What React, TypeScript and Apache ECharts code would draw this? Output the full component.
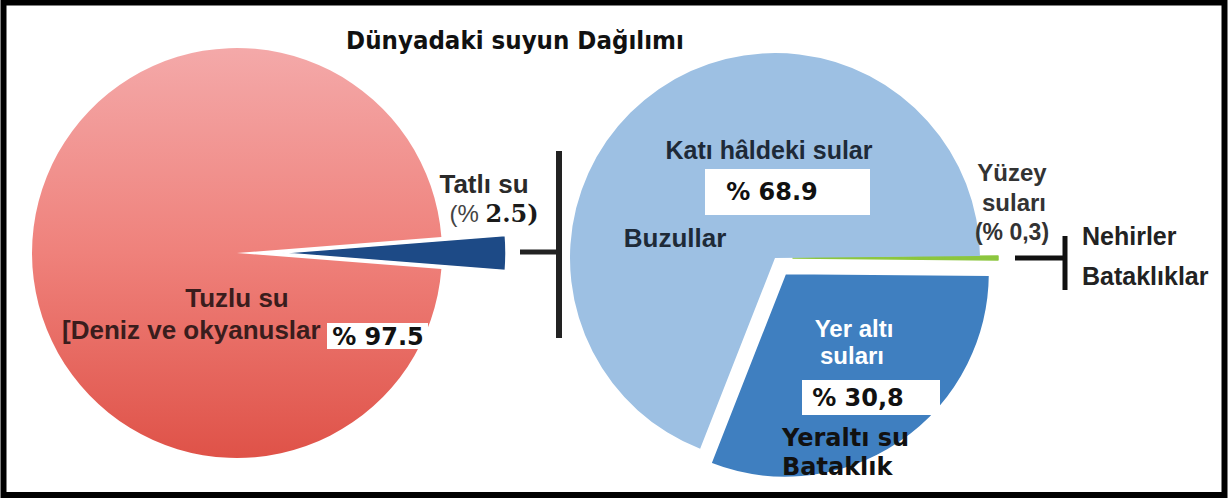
import React, { useEffect, useRef } from 'react';
import * as echarts from 'echarts';

const chartTitle = 'Dünyadaki suyun Dağılımı';
const leftNames = ['Tatlı su', 'Tuzlu su'];
const leftValues = [2.5, 97.5];
const rightNames = ['Yüzey suları', 'Yer altı suları', 'Katı hâldeki sular'];
const rightValues = [0.3, 30.8, 68.9];
const valueLabels = ['(% 2.5)', '% 97.5', '% 68.9', '(% 0,3)', '% 30,8'];
const subLabels = ['[Deniz ve okyanuslar', 'Buzullar', 'Nehirler', 'Bataklıklar', 'Yeraltı su', 'Bataklık'];

const SANS = '"Liberation Sans", Arial, sans-serif';
const VERD = '"DejaVu Sans", Verdana, sans-serif';

function txt(text: string, x: number, y: number, opts: any = {}) {
  const align = opts.align || 'center';
  return {
    type: 'text',
    z: 100,
    x,
    y,
    scaleX: opts.scaleX || 1,
    style: {
      text,
      fill: opts.fill || '#222',
      font: opts.font || `bold 26px ${SANS}`,
      align,
      textAlign: align,
      verticalAlign: 'middle',
      textVerticalAlign: 'middle',
      rich: opts.rich,
    },
  };
}

export default function App() {
  const ref = useRef<HTMLDivElement>(null);
  useEffect(() => {
    if (!ref.current) return;
    const chart = echarts.init(ref.current, undefined, { renderer: 'svg' });
    const transparent = 'rgba(0,0,0,0)';
    const redGrad = new echarts.graphic.LinearGradient(0, 0, 0, 1, [
      { offset: 0, color: '#f4a9a9' },
      { offset: 0.5, color: '#ef817b' },
      { offset: 1, color: '#df5248' },
    ]);
    const [tatliName, tuzluName] = leftNames;
    const [tatliVal, tuzluVal] = leftValues;
    const option: any = {
      animation: false,
      backgroundColor: '#fff',
      series: [
        {
          type: 'pie',
          center: [237, 253],
          radius: 205,
          startAngle: 4.5,
          clockwise: true,
          silent: true,
          label: { show: false },
          labelLine: { show: false },
          emphasis: { disabled: true },
          data: [
            { name: tatliName, value: tatliVal, itemStyle: { color: transparent } },
            { name: tuzluName, value: tuzluVal, itemStyle: { color: redGrad } },
          ],
        },
        {
          type: 'pie',
          center: [237, 253],
          radius: 224,
          startAngle: 4.5,
          clockwise: true,
          selectedMode: 'multiple',
          selectedOffset: 45,
          label: { show: false },
          labelLine: { show: false },
          emphasis: { disabled: true },
          data: [
            { name: tatliName, value: tatliVal, selected: true, itemStyle: { color: '#1d4a86', borderColor: '#fff', borderWidth: 1.5 } },
            { name: tuzluName, value: tuzluVal, itemStyle: { color: transparent } },
          ],
        },
        {
          type: 'pie',
          center: [775, 258],
          radius: 205,
          startAngle: 0.54,
          clockwise: true,
          selectedMode: 'multiple',
          selectedOffset: 18,
          label: { show: false },
          labelLine: { show: false },
          emphasis: { disabled: true },
          data: [
            { name: rightNames[0], value: rightValues[0], selected: true, itemStyle: { color: '#8cc63e', borderColor: '#8cc63e', borderWidth: 1.5 } },
            { name: rightNames[1], value: rightValues[1], selected: true, itemStyle: { color: '#3f7fc0', borderColor: '#fff', borderWidth: 2.5 } },
            { name: rightNames[2], value: rightValues[2], itemStyle: { color: '#9dc0e3' } },
          ],
        },
      ],
      graphic: [
        { type: 'rect', z: 100, shape: { x: 3.5, y: 2.5, width: 1221, height: 492.5 }, style: { fill: 'none', stroke: '#000', lineWidth: 6 } },
        txt(chartTitle, 515, 41, { font: `bold 25px ${VERD}`, fill: '#111', scaleX: 0.92 }),
        { type: 'line', z: 100, shape: { x1: 559, y1: 151, x2: 559, y2: 338 }, style: { stroke: '#222', lineWidth: 6 } },
        { type: 'line', z: 100, shape: { x1: 520, y1: 252, x2: 559, y2: 252 }, style: { stroke: '#222', lineWidth: 5 } },
        { type: 'line', z: 100, shape: { x1: 1015, y1: 258, x2: 1065, y2: 258 }, style: { stroke: '#111', lineWidth: 5 } },
        { type: 'line', z: 100, shape: { x1: 1065, y1: 236, x2: 1065, y2: 290 }, style: { stroke: '#111', lineWidth: 5 } },
        txt(tatliName, 484, 184, { fill: '#2a2a2a' }),
        txt(`{a|(% }{b|${tatliVal})}`, 494, 213, {
          rich: {
            a: { font: `24px ${SANS}`, fill: '#444' },
            b: { font: `bold 24px "DejaVu Serif", serif`, fill: '#1a1a1a' },
          },
        }),
        txt(tuzluName, 237, 298, { fill: '#3a1d1d' }),
        txt(subLabels[0], 62, 330, { align: 'left', fill: '#3a1d1d' }),
        { type: 'rect', z: 100, shape: { x: 327, y: 323, width: 101, height: 26 }, style: { fill: '#fff' } },
        txt(valueLabels[1], 378, 337, { font: `bold 24px ${VERD}`, fill: '#111' }),
        txt(rightNames[2], 769, 150, { fill: '#1e2a38', font: `bold 25px ${SANS}` }),
        { type: 'rect', z: 100, shape: { x: 705, y: 169, width: 165, height: 46 }, style: { fill: '#fff' } },
        txt(valueLabels[2], 772, 192, { font: `bold 24px ${VERD}`, fill: '#111' }),
        txt(subLabels[1], 675, 238, { fill: '#1e2a38' }),
        txt('Yüzey', 1012, 172, { fill: '#333', font: `bold 24px ${SANS}` }),
        txt('suları', 1014, 202, { fill: '#333', font: `bold 24px ${SANS}` }),
        txt(valueLabels[3], 1012, 232, { fill: '#333', font: `bold 23px ${SANS}` }),
        txt(subLabels[2], 1082, 236, { align: 'left', fill: '#222', font: `bold 25px ${SANS}` }),
        txt(subLabels[3], 1082, 276, { align: 'left', fill: '#222', font: `bold 25px ${SANS}` }),
        txt('Yer altı', 854, 328, { fill: '#fff', font: `bold 24px ${SANS}` }),
        txt('suları', 852, 355, { fill: '#fff', font: `bold 24px ${SANS}` }),
        { type: 'rect', z: 100, shape: { x: 802, y: 380, width: 138, height: 35 }, style: { fill: '#fff' } },
        txt(valueLabels[4], 858, 398, { font: `bold 24px ${VERD}`, fill: '#111' }),
        txt(subLabels[4], 782, 438, { align: 'left', font: `bold 24px ${VERD}`, fill: '#111' }),
        txt(subLabels[5], 782, 467, { align: 'left', font: `bold 24px ${VERD}`, fill: '#111' }),
      ],
    };
    chart.setOption(option);
    return () => chart.dispose();
  }, []);
  return <div ref={ref} style={{ position: 'absolute', left: 0, top: 0, width: 1230, height: 498 }} />;
}
